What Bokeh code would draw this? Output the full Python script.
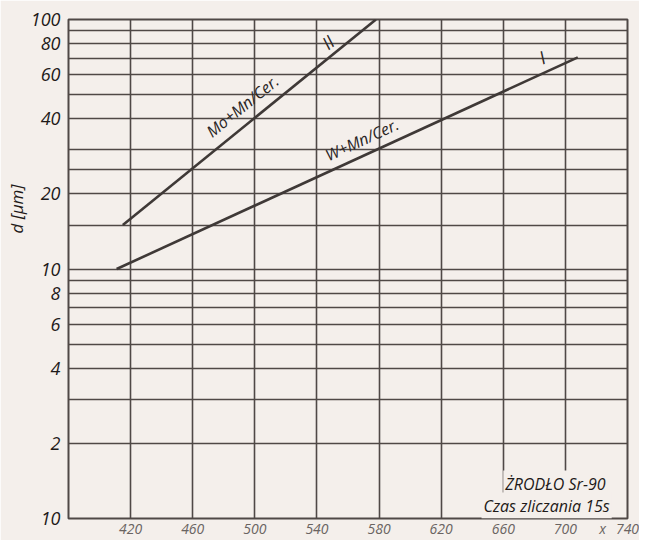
from bokeh.plotting import figure
from bokeh.models import Range1d, FixedTicker, Label, Title
from bokeh.embed import file_html
from bokeh.resources import INLINE
import math

# ---- data ----
x_I = [411, 708]          # W+Mn/Cer.
d_I = [10, 70.5]
x_II = [415, 578]         # Mo+Mn/Cer.
d_II = [15, 100]

x_ticks = [420, 460, 500, 540, 580, 620, 660, 700, 740]
x_name_pos = 724          # where the axis name "x" sits among the tick labels
y_ticks = [1, 2, 4, 6, 8, 10, 20, 40, 60, 80, 100]
y_tick_labels = {1: "10"}
y_grid = [1, 2, 3, 4, 5, 6, 7, 8, 9, 10, 15, 20, 25, 30, 40, 50, 60, 70, 80, 90, 100]
x_grid = [420, 460, 500, 540, 580, 620, 660, 700]

BG = "#f4efeb"
INK = "#4f4846"
FONT = "Open Sans"

p = figure(width=639, height=540, output_backend="svg", toolbar_location=None,
           y_axis_type="log", x_range=Range1d(380, 740), y_range=Range1d(1, 100),
           min_border_left=68, min_border_top=19, min_border_right=12, min_border_bottom=0)
p.background_fill_color = BG
p.border_fill_color = BG
p.outline_line_color = INK
p.outline_line_width = 2

p.xgrid.ticker = FixedTicker(ticks=x_grid)
p.ygrid.ticker = FixedTicker(ticks=y_grid)
for g in (p.xgrid, p.ygrid):
    g.grid_line_color = INK
    g.grid_line_width = 1.6
    g.grid_line_alpha = 1.0

p.xaxis.ticker = FixedTicker(ticks=x_ticks + [x_name_pos])
p.xaxis.major_label_overrides = {x_name_pos: "x"}
p.yaxis.ticker = FixedTicker(ticks=y_ticks)
p.yaxis.major_label_overrides = y_tick_labels
for ax in (p.xaxis, p.yaxis):
    ax.axis_line_color = None
    ax.major_tick_line_color = None
    ax.minor_tick_line_color = None
    ax.major_tick_out = 0
    ax.major_tick_in = 0
    ax.minor_tick_out = 0
    ax.major_label_text_font = FONT
    ax.major_label_text_font_style = "italic"
p.yaxis.major_label_text_font_size = "18px"
p.yaxis.major_label_text_color = "#1e1a19"
p.yaxis.major_label_standoff = 8
p.xaxis.major_label_text_font_size = "14px"
p.xaxis.major_label_text_color = "#6a6462"
p.xaxis.major_label_standoff = 0

p.add_layout(Title(text="d [μm]", align="left", offset=285, text_font=FONT,
                   text_font_style="italic", text_font_size="17px",
                   text_color="#1e1a19", standoff=0), "left")

p.line(x_I, d_I, line_color="#3f3937", line_width=2.6)
p.line(x_II, d_II, line_color="#3f3937", line_width=2.6)

def lab(text, x, y, angle_deg=0, size="16px", color="#2a2524", align="center", **kw):
    l = Label(x=x, y=y, text=text, angle=math.radians(angle_deg),
              text_font=FONT, text_font_style="italic", text_font_size=size,
              text_color=color, text_align=align, text_baseline="middle", **kw)
    p.add_layout(l)
    return l

lab("Mo+Mn/Cer.", 492, 45, 39)
lab("W+Mn/Cer.", 569, 33, 24.6)
lab("II", 547, 81, 39, size="18px")
lab("I", 685, 70.5, 24.6, size="18px")

lab("ŻRODŁO Sr-90", 660, 1.38, size="16px", color="#1e1a19", align="left",
    background_fill_color=BG, padding=2)
lab("Czas zliczania 15s", 646, 1.127, size="16px", color="#1e1a19", align="left",
    background_fill_color=BG, padding=2)

open("out.html", "w").write(file_html(p, INLINE))
